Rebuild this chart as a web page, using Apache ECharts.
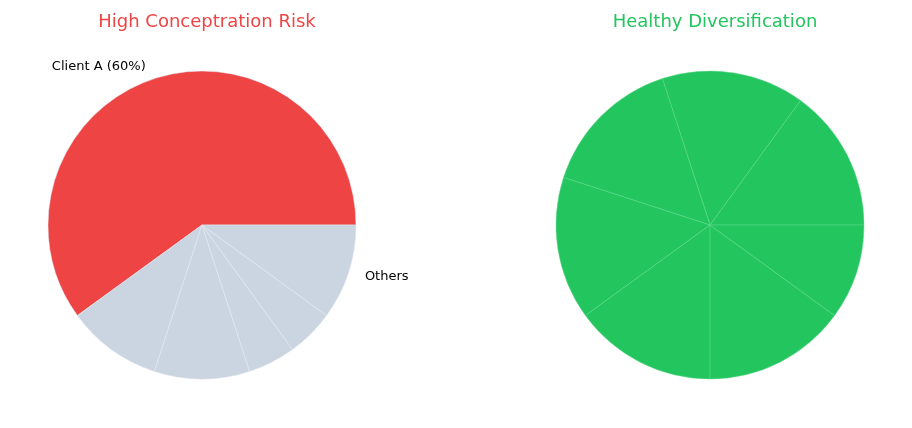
<!DOCTYPE html>
<html><head><meta charset="utf-8">
<script src="https://cdn.jsdelivr.net/npm/echarts@6/dist/echarts.min.js"></script>
<style>html,body{margin:0;padding:0;background:#fff}#c{width:912px;height:428px}</style>
</head><body><div id="c"></div>
<script>
const leftNames = ['Client A (60%)', '', '', '', '', 'Others'];
const leftValues = [60, 10, 10, 5, 5, 10];
const rightNames = ['A', 'B', 'C', 'D', 'E', 'F', 'G'];
const rightValues = [15, 15, 15, 15, 15, 15, 10];
const titles = ['High Conceptration Risk', 'Healthy Diversification'];

const chart = echarts.init(document.getElementById('c'));
chart.setOption({
  animation: false,
  title: [
    {text: titles[0], left: 202, top: 8, textAlign: 'center', textStyle: {color: '#ef4444', fontSize: 18, fontWeight: 'normal', fontFamily: 'DejaVu Sans'}},
    {text: titles[1], left: 710, top: 8, textAlign: 'center', textStyle: {color: '#22c55e', fontSize: 18, fontWeight: 'normal', fontFamily: 'DejaVu Sans'}}
  ],
  series: [
    {
      type: 'pie', center: [202, 225], radius: 154, startAngle: 0, clockwise: false,
      minAngle: 0, avoidLabelOverlap: false,
      itemStyle: {borderColor: '#e2e8f0', borderWidth: 0.5},
      label: {show: true, position: 'outside', color: '#000', fontSize: 13, fontFamily: 'DejaVu Sans', formatter: p => p.name},
      labelLine: {show: false, length: 12, length2: 0},
      data: leftValues.map((v, i) => ({value: v, name: leftNames[i], itemStyle: {color: i === 0 ? '#ef4444' : '#cbd5e1'}, label: {show: leftNames[i] !== ''}}))
    },
    {
      type: 'pie', center: [710, 225], radius: 154, startAngle: 0, clockwise: false,
      itemStyle: {color: '#22c55e', borderColor: '#5fd98a', borderWidth: 0.5},
      label: {show: false}, labelLine: {show: false},
      data: rightValues.map((v, i) => ({value: v, name: rightNames[i]}))
    }
  ]
});
</script></body></html>
